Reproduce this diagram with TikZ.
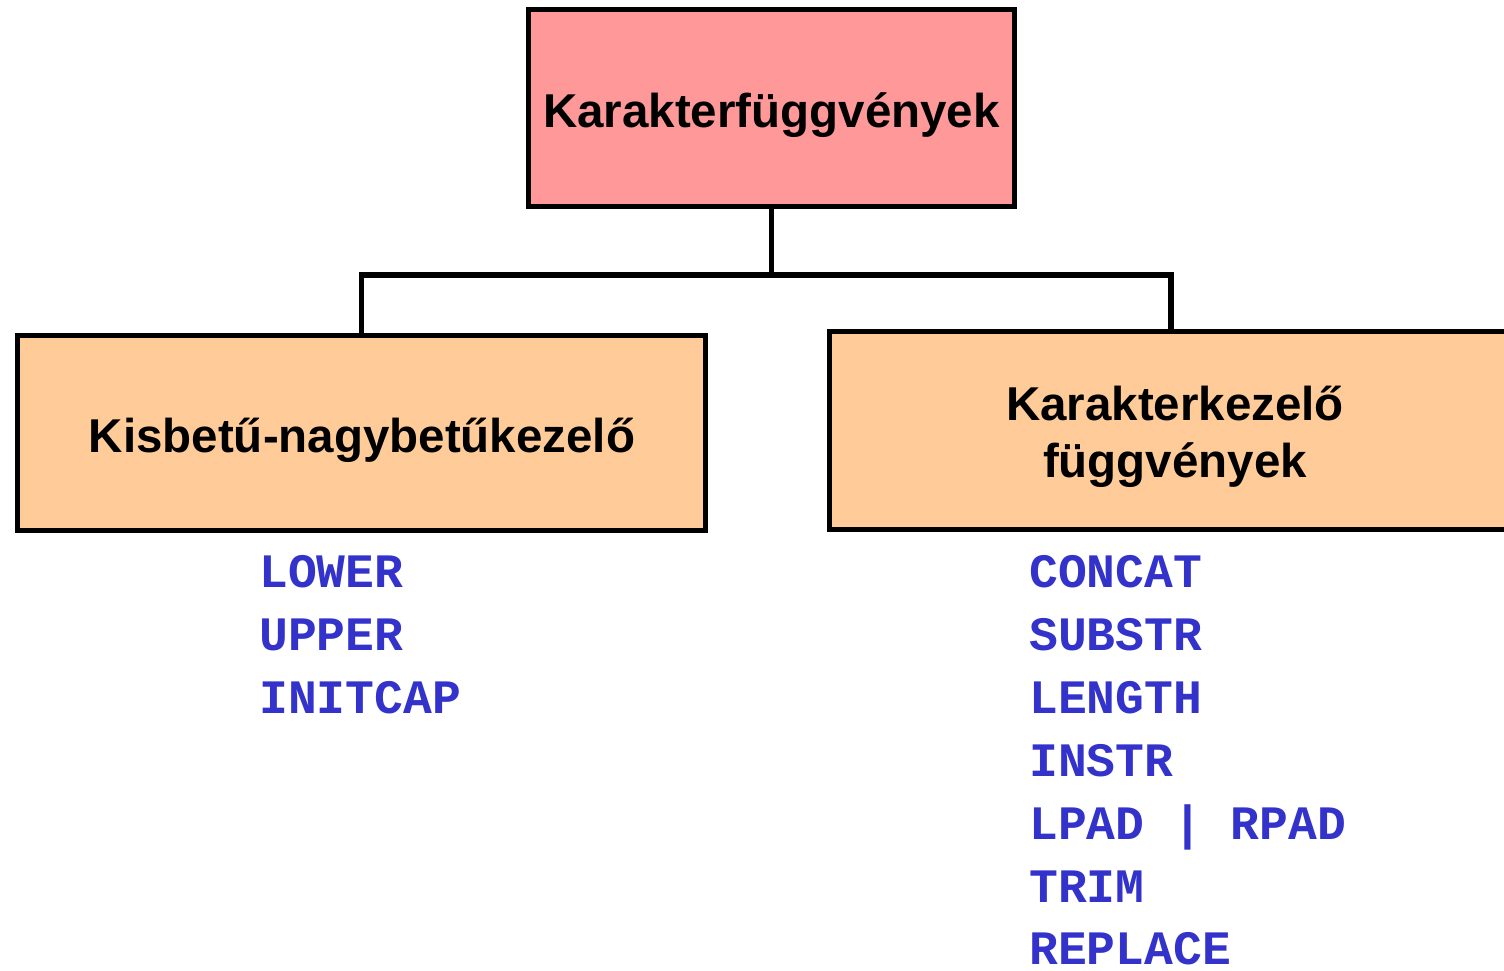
\documentclass[tikz,border=0pt]{standalone}
\usepackage{fontspec}
\setmainfont{Liberation Sans}
\newfontfamily\codefont{Liberation Mono}
\definecolor{pinkfill}{HTML}{FF9999}
\definecolor{orangefill}{HTML}{FFCC99}
\definecolor{codeblue}{HTML}{3333CC}
\tikzset{
  box/.style={draw=black, line width=5.5pt, inner sep=0pt},
  conn/.style={draw=black, line width=5.5pt, line join=miter},
  title/.style={inner sep=0pt, anchor=base, font=\fontsize{47.5}{57}\selectfont\bfseries},
  code/.style={inner sep=0pt, anchor=base west, text=codeblue, font=\fontsize{48}{58}\selectfont\codefont\bfseries}
}
\begin{document}
\begin{tikzpicture}[x=1pt, y=-1pt]
\useasboundingbox (0,0) rectangle (1504,970);
\clip (0,0) rectangle (1504,970);
% boxes
\node[box, fill=pinkfill, minimum width=486pt, minimum height=197pt] (top) at (771.5,108) {};
\node[box, fill=orangefill, minimum width=688pt, minimum height=195pt] (left) at (361.5,433) {};
\node[box, fill=orangefill, minimum width=683pt, minimum height=198pt] (right) at (1171,430.5) {};
% titles
\node[title] (toptext) at (771.5,127) {Karakterfüggvények};
\node[title] (lefttext) at (362,452) {Kisbetű-nagybetűkezelő};
\node[title] (righttext1) at (1175,420) {Karakterkezelő};
\node[title] (righttext2) at (1175,477) {függvények};
% connectors
\coordinate (hub) at (771.5,275);
\draw[conn] (top.south) -- (hub);
\draw[conn] (left.north) |- (hub) -| (right.north);
% function lists
\node[code] (lower) at (259,587) {LOWER};
\node[code] (upper) at (259,650) {UPPER};
\node[code] (initcap) at (259,713) {INITCAP};
\node[code] (concat) at (1029,587) {CONCAT};
\node[code] (substr) at (1029,650) {SUBSTR};
\node[code] (length) at (1029,713) {LENGTH};
\node[code] (instr) at (1029,776) {INSTR};
\node[code] (pad) at (1029,839) {LPAD\ |\ RPAD};
\node[code] (trim) at (1029,902) {TRIM};
\node[code] (replace) at (1029,964) {REPLACE};
\end{tikzpicture}
\end{document}
